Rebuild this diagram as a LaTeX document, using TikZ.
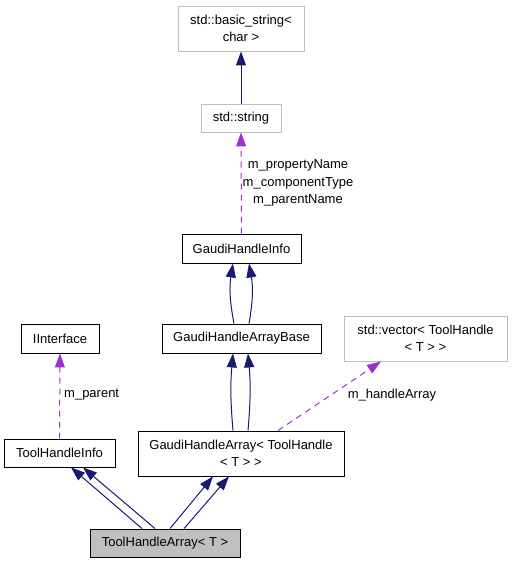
\documentclass[tikz,border=0pt]{standalone}
\usepackage{fontspec}
\setmainfont{Liberation Sans}
\usetikzlibrary{arrows.meta}
\definecolor{edgeblue}{HTML}{191970}
\definecolor{deppurple}{HTML}{9A32CD}
\definecolor{greyline}{HTML}{BFBFBF}
\begin{document}
\begin{tikzpicture}[x=1pt,y=-1pt,font=\fontsize{13}{17.5}\selectfont,
  cls/.style={rectangle,draw=black,line width=0.9pt,inner sep=0pt,align=center},
  ext/.style={cls,draw=greyline},
  cur/.style={cls,fill=greyline},
  inh/.style={draw=edgeblue,line width=1pt,-{Triangle[length=14pt,width=10pt]}},
  dep/.style={draw=deppurple,line width=1pt,dash pattern=on 6pt off 5pt,-{Triangle[length=14pt,width=10pt]}},
  lbl/.style={inner sep=0pt,align=center}]
\useasboundingbox (0,0) rectangle (512,563);
% nodes
\node[ext,minimum width=126pt,minimum height=45pt] (bs) at (241,28.5) {std::basic\_string<\\char >};
\node[ext,minimum width=80pt,minimum height=28pt] (str) at (241,118) {std::string};
\node[cls,minimum width=119pt,minimum height=29pt] (ghi) at (241.5,248.5) {GaudiHandleInfo};
\node[cls,minimum width=78pt,minimum height=29pt] (iif) at (60,338.5) {IInterface};
\node[cls,minimum width=159pt,minimum height=29pt] (ghab) at (241.5,338.5) {GaudiHandleArrayBase};
\node[ext,minimum width=163pt,minimum height=45pt] (vec) at (425.5,338.5) {std::vector< ToolHandle\\< T > >};
\node[cls,minimum width=111pt,minimum height=28pt] (thi) at (59.5,453) {ToolHandleInfo};
\node[cls,minimum width=206pt,minimum height=45pt] (gha) at (241,453.5) {GaudiHandleArray< ToolHandle\\< T > >};
\node[cur,minimum width=150pt,minimum height=28pt] (tha) at (165,543) {ToolHandleArray< T >};
% edges
\draw[inh] (str) -- (bs);
\draw[dep] (ghi) -- (str);
\node[lbl] (l1) at (298,183) {m\_propertyName\\m\_componentType\\m\_parentName};
\draw[inh] ([xshift=-7.5pt]ghab.north) to[bend left=10] ([xshift=-8.5pt]ghi.south);
\draw[inh] ([xshift=7.5pt]ghab.north) to[bend right=10] ([xshift=7.5pt]ghi.south);
\draw[inh] ([xshift=-8pt]gha.north) to[bend left=5] ([xshift=-8.5pt]ghab.south);
\draw[inh] ([xshift=7pt]gha.north) to[bend right=5] ([xshift=6.5pt]ghab.south);
\draw[dep] ([xshift=37pt]gha.north) -- ([xshift=-44.5pt]vec.south);
\node[lbl] (l2) at (392,395) {m\_handleArray};
\draw[dep] (thi) -- (iif);
\node[lbl,anchor=west] (l3) at (64,395) {m\_parent};
\draw[inh] ([xshift=-23pt]tha.north) -- ([xshift=11.5pt]thi.south);
\draw[inh] ([xshift=-10pt]tha.north) -- ([xshift=23.5pt]thi.south);
\draw[inh] ([xshift=5pt]tha.north) -- ([xshift=-28pt]gha.south);
\draw[inh] ([xshift=19pt]tha.north) -- ([xshift=-12pt]gha.south);
\end{tikzpicture}
\end{document}
